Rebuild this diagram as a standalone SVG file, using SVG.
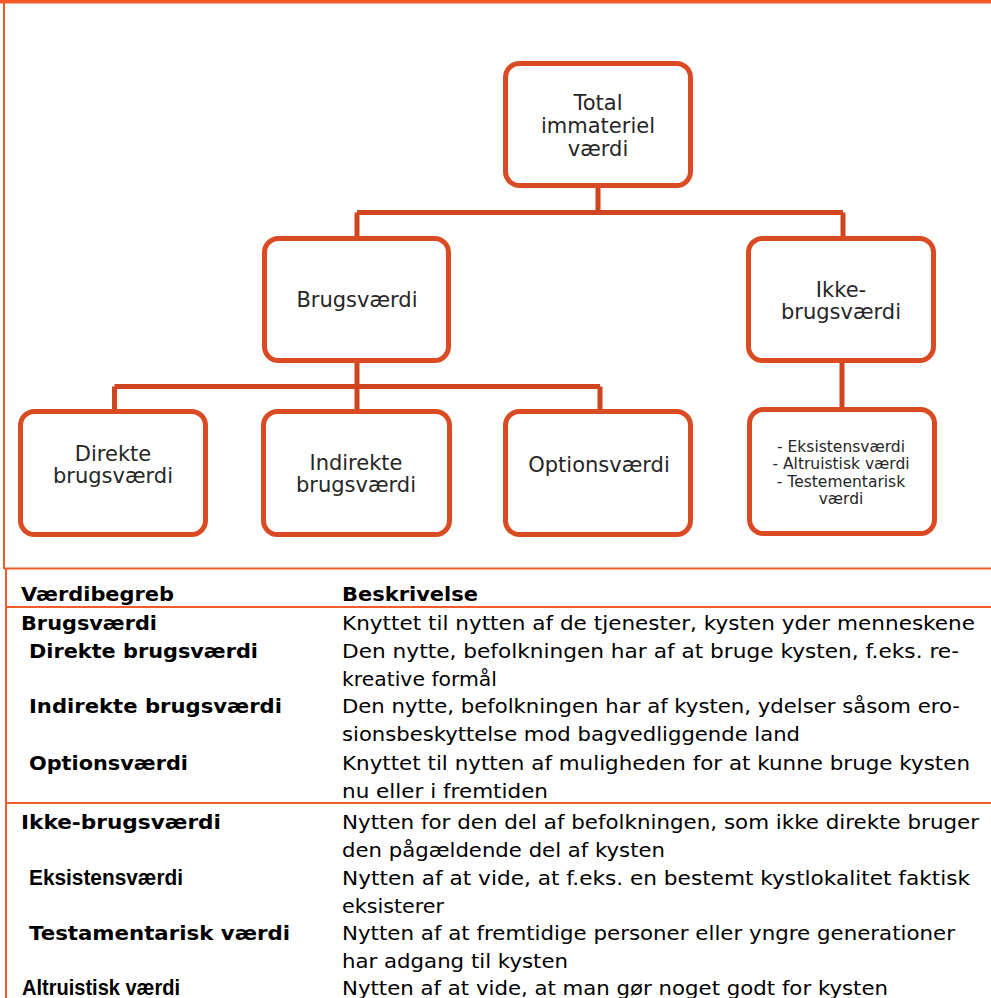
<svg xmlns="http://www.w3.org/2000/svg" width="991" height="998" viewBox="0 0 991 998">
<style>
.frame{stroke:#F15A29;stroke-width:2;fill:none}
.box{fill:#fff;stroke:#DA4A23;stroke-width:5}
.conn{stroke:#D0441F;stroke-width:5;fill:none;stroke-linecap:butt}
.bt{font-family:"DejaVu Sans",Verdana,sans-serif;font-size:21px;fill:#262626;text-anchor:middle}
.st{font-family:"DejaVu Sans",Verdana,sans-serif;font-size:15.5px;fill:#262626;text-anchor:middle}
.th{font-family:"DejaVu Sans",Verdana,sans-serif;font-size:20px;font-weight:bold;fill:#000}
.thc{font-family:"Liberation Sans",Arial,sans-serif;font-size:22px;font-weight:bold;fill:#000}
.td{font-family:"DejaVu Sans",Verdana,sans-serif;font-size:20px;fill:#000}
</style>
<rect x="0" y="0" width="991" height="998" fill="#fff"/>
<g id="frame">
<rect x="0" y="0" width="991" height="3.5" fill="#F4592A"/>
<line class="frame" x1="4" y1="0" x2="4" y2="569"/>
<line class="frame" x1="6" y1="568" x2="6" y2="998"/>
<line class="frame" x1="4" y1="568.5" x2="991" y2="568.5"/>
<line class="frame" x1="6" y1="607" x2="991" y2="607"/>
<line class="frame" x1="6" y1="803" x2="991" y2="803"/>
</g>
<g id="connectors">
<path class="conn" d="M598 186 V212.5 M357 212.5 H843 M357 212.5 V238 M843 212.5 V238"/>
<path class="conn" d="M357 361 V386.5 M114.5 386.5 H600 M114.5 386.5 V411 M357 386.5 V411 M600 386.5 V411"/>
<path class="conn" d="M842 361 V410"/>
</g>
<g id="total">
<rect class="box" x="505.5" y="63.5" width="185" height="122" rx="14"/>
<text class="bt" x="598" y="110">Total</text>
<text class="bt" x="598" y="133">immateriel</text>
<text class="bt" x="598" y="156">værdi</text>
</g>
<g id="brugsvaerdi">
<rect class="box" x="264.5" y="238.5" width="184" height="122" rx="14"/>
<text class="bt" x="357" y="307">Brugsværdi</text>
</g>
<g id="ikke-brugsvaerdi">
<rect class="box" x="748.5" y="238.5" width="185" height="122" rx="14"/>
<text class="bt" x="841" y="297">Ikke-</text>
<text class="bt" x="841" y="319">brugsværdi</text>
</g>
<g id="direkte">
<rect class="box" x="20.5" y="411.5" width="185" height="123" rx="14"/>
<text class="bt" x="113" y="461">Direkte</text>
<text class="bt" x="113" y="483">brugsværdi</text>
</g>
<g id="indirekte">
<rect class="box" x="263.5" y="411.5" width="186" height="123" rx="14"/>
<text class="bt" x="356" y="470">Indirekte</text>
<text class="bt" x="356" y="492">brugsværdi</text>
</g>
<g id="options">
<rect class="box" x="505.5" y="411.5" width="185" height="123" rx="14"/>
<text class="bt" x="599" y="472">Optionsværdi</text>
</g>
<g id="ikke-children">
<rect class="box" x="749.5" y="409.5" width="185" height="124" rx="14"/>
<text class="st" x="841" y="452">- Eksistensværdi</text>
<text class="st" x="841" y="469.3">- Altruistisk værdi</text>
<text class="st" x="841" y="486.6">- Testementarisk</text>
<text class="st" x="841" y="504">værdi</text>
</g>
<g id="table">
<text class="th" x="21" y="601" textLength="153" lengthAdjust="spacingAndGlyphs">Værdibegreb</text>
<text class="th" x="342" y="601" textLength="136" lengthAdjust="spacingAndGlyphs">Beskrivelse</text>
<text class="th" x="21" y="630" textLength="136" lengthAdjust="spacingAndGlyphs">Brugsværdi</text>
<text class="td" x="342" y="630" textLength="633" lengthAdjust="spacingAndGlyphs">Knyttet til nytten af de tjenester, kysten yder menneskene</text>
<text class="th" x="29" y="658" textLength="229" lengthAdjust="spacingAndGlyphs">Direkte brugsværdi</text>
<text class="td" x="342" y="658" textLength="617" lengthAdjust="spacingAndGlyphs">Den nytte, befolkningen har af at bruge kysten, f.eks. re-</text>
<text class="td" x="342" y="686" textLength="155" lengthAdjust="spacingAndGlyphs">kreative formål</text>
<text class="th" x="29" y="713" textLength="253" lengthAdjust="spacingAndGlyphs">Indirekte brugsværdi</text>
<text class="td" x="342" y="713" textLength="618" lengthAdjust="spacingAndGlyphs">Den nytte, befolkningen har af kysten, ydelser såsom ero-</text>
<text class="td" x="342" y="741" textLength="458" lengthAdjust="spacingAndGlyphs">sionsbeskyttelse mod bagvedliggende land</text>
<text class="th" x="29" y="770" textLength="159" lengthAdjust="spacingAndGlyphs">Optionsværdi</text>
<text class="td" x="342" y="770" textLength="628" lengthAdjust="spacingAndGlyphs">Knyttet til nytten af muligheden for at kunne bruge kysten</text>
<text class="td" x="342" y="798" textLength="206" lengthAdjust="spacingAndGlyphs">nu eller i fremtiden</text>
<text class="th" x="21" y="829" textLength="200" lengthAdjust="spacingAndGlyphs">Ikke-brugsværdi</text>
<text class="td" x="342" y="829" textLength="637" lengthAdjust="spacingAndGlyphs">Nytten for den del af befolkningen, som ikke direkte bruger</text>
<text class="td" x="342" y="857" textLength="323" lengthAdjust="spacingAndGlyphs">den pågældende del af kysten</text>
<text class="thc" x="29" y="885" textLength="154" lengthAdjust="spacingAndGlyphs">Eksistensværdi</text>
<text class="td" x="342" y="885" textLength="628" lengthAdjust="spacingAndGlyphs">Nytten af at vide, at f.eks. en bestemt kystlokalitet faktisk</text>
<text class="td" x="342" y="913" textLength="102" lengthAdjust="spacingAndGlyphs">eksisterer</text>
<text class="th" x="29" y="940" textLength="261" lengthAdjust="spacingAndGlyphs">Testamentarisk værdi</text>
<text class="td" x="342" y="940" textLength="613" lengthAdjust="spacingAndGlyphs">Nytten af at fremtidige personer eller yngre generationer</text>
<text class="td" x="342" y="968" textLength="226" lengthAdjust="spacingAndGlyphs">har adgang til kysten</text>
<text class="thc" x="22" y="995" textLength="158" lengthAdjust="spacingAndGlyphs">Altruistisk værdi</text>
<text class="td" x="342" y="995" textLength="546" lengthAdjust="spacingAndGlyphs">Nytten af at vide, at man gør noget godt for kysten</text>
</g>
</svg>
